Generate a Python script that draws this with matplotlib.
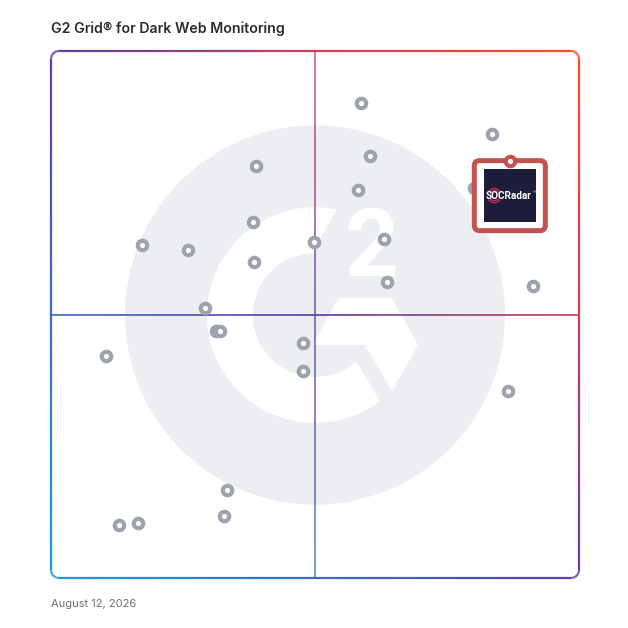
#!/usr/bin/env python3
"""Recreate the G2 Grid for Dark Web Monitoring chart."""
import numpy as np
import matplotlib
matplotlib.use("Agg")
import matplotlib.pyplot as plt
from matplotlib.collections import LineCollection
from matplotlib.colors import LinearSegmentedColormap
from matplotlib.patches import Circle, Polygon, FancyBboxPatch, Rectangle, Arc

# Scores: satisfaction (x) and market presence (y), 0-100
satisfaction = [58.7, 83.5, 60.4, 38.8, 58.1, 38.3, 80.1, 17.2, 25.9, 49.8,
                63.1, 38.4, 63.6, 91.3, 29.2, 31.3, 32.0, 47.7, 10.4, 47.7,
                86.6, 33.3, 32.8, 16.5, 12.9]
market_presence = [90.1, 84.3, 80.1, 78.2, 73.6, 67.6, 74.0, 63.2, 62.2, 63.8,
                   64.3, 60.0, 56.2, 55.4, 51.2, 46.9, 46.9, 44.6, 42.1, 39.3,
                   35.5, 16.7, 11.8, 10.4, 10.1]

highlight_name = "SOCRadar"
highlight_x = 86.9
highlight_y = 79.1

title = "G2 Grid\u00ae for Dark Web Monitoring"
date_label = "August 12, 2026"

W = H = 628
fig = plt.figure(figsize=(W / 100, H / 100), dpi=100)
fig.patch.set_facecolor("white")

# grid box in reference pixels: x 51..579, y 51..578
gx0, gx1, gy0, gy1 = 51, 579, 51, 578
ax = fig.add_axes([gx0 / W, 1 - gy1 / H, (gx1 - gx0) / W, (gy1 - gy0) / H])
ax.set_xlim(0, 100)
ax.set_ylim(0, 100)
ax.axis("off")

sx = 100 / (gx1 - gx0)  # data units per pixel
sy = 100 / (gy1 - gy0)


def px(x, y):
    """Reference pixel -> data coordinates."""
    return ((x - gx0) * sx, (gy1 - y) * sy)


# --- G2 watermark -------------------------------------------------------
wm = "#eceef1"
cx, cy = px(315, 315)
ax.add_patch(Circle((cx, cy), 190 * sx, color=wm, lw=0, zorder=0))

r_out, r_in = 108 * sx, 62 * sx
a_out = np.radians(np.linspace(78.6, 306.9, 120))
a_in = np.radians(np.linspace(311.8, 92.0, 120))
c_pts = np.vstack([
    np.column_stack([cx + r_out * np.cos(a_out), cy + r_out * np.sin(a_out)]),
    np.column_stack([cx + r_in * np.cos(a_in), cy + r_in * np.sin(a_in)]),
])
ax.add_patch(Polygon(c_pts, closed=True, color="white", lw=0, zorder=0.5))

chevron = [px(338, 298), px(392, 298), px(418, 345), px(392, 391),
           px(365, 345), px(313, 345)]
ax.add_patch(Polygon(chevron, closed=True, color="white", lw=0, zorder=0.5))
tx, ty = px(372, 250)
ax.text(tx, ty, "2", fontsize=68, fontweight="bold", family="Roboto",
        color="white", ha="center", va="center", zorder=0.6)

# --- gradient frame and cross lines --------------------------------------
grad = LinearSegmentedColormap.from_list(
    "g2", [(0, "#1a9cd8"), (0.25, "#3b6cc0"), (0.5, "#5d3dab"),
           (0.75, "#c8405a"), (1.0, "#ff4c26")])


def gradient_line(xs, ys, lw, alpha=1.0, z=2):
    pts = np.column_stack([xs, ys])
    segs = np.stack([pts[:-1], pts[1:]], axis=1)
    mid = (pts[:-1] + pts[1:]) / 2
    t = (mid[:, 0] + mid[:, 1]) / 200
    lc = LineCollection(segs, colors=grad(t), linewidths=lw, alpha=alpha,
                        zorder=z, capstyle="butt", clip_on=False)
    ax.add_collection(lc)


# rounded rectangle path
rad = 8 * sx
corners = [(100 - rad, 100 - rad, 0, 90), (rad, 100 - rad, 90, 180),
           (rad, rad, 180, 270), (100 - rad, rad, 270, 360)]
fx, fy = [], []
for ccx, ccy, a0, a1 in corners:
    ang = np.radians(np.linspace(a0, a1, 20))
    fx.extend(ccx + rad * np.cos(ang))
    fy.extend(ccy + rad * np.sin(ang))
fx.append(fx[0])
fy.append(fy[0])
# densify straight edges so the colour blends smoothly
dx, dy = [], []
for i in range(len(fx) - 1):
    n = max(2, int(np.hypot(fx[i + 1] - fx[i], fy[i + 1] - fy[i]) * 2))
    dx.extend(np.linspace(fx[i], fx[i + 1], n)[:-1])
    dy.extend(np.linspace(fy[i], fy[i + 1], n)[:-1])
dx.append(fx[0])
dy.append(fy[0])
gradient_line(np.array(dx), np.array(dy), lw=1.6)

line = np.linspace(0, 100, 200)
gradient_line(line, np.full_like(line, 50), lw=1.3, alpha=0.95, z=1)
gradient_line(np.full_like(line, 50), line, lw=1.3, alpha=0.75, z=1)

# --- vendors ------------------------------------------------------------
ax.scatter(satisfaction, market_presence, s=46, facecolor="white",
           edgecolor="#9ea2ad", linewidths=3.0, zorder=3)

# highlighted vendor with its logo card
bw, bh = 71 * sx, 70 * sy
card_x = highlight_x - bw / 2
card_top = highlight_y + 0.5 * sy
ax.add_patch(FancyBboxPatch((card_x, card_top - bh), bw, bh,
                            boxstyle="round,pad=0,rounding_size=1.0",
                            facecolor="white", edgecolor="#c4524f",
                            linewidth=3.6, zorder=4))
lw_, lh_ = 52 * sx, 53 * sy
ax.add_patch(Rectangle((highlight_x - lw_ / 2, card_top - 8.5 * sy - lh_),
                       lw_, lh_, facecolor="#1d1c3b", lw=0, zorder=5))
logo_cy = card_top - 35 * sy
ax.text(highlight_x - 0.3, logo_cy, highlight_name, fontsize=7.2,
        fontweight="bold", family="Roboto", color="white", ha="center",
        va="center", zorder=7)
ox = highlight_x - 2.95
for rr, a0, a1 in [(10, 25, 155), (10, 205, 335), (14, 35, 145), (14, 215, 325)]:
    ax.add_patch(Arc((ox, logo_cy), rr * sx, rr * sy, theta1=a0, theta2=a1,
                     color="#e0334a", lw=0.8, zorder=6))
ax.text(highlight_x + 4.6, logo_cy + 0.7, "\u00ae", fontsize=3,
        color="white", ha="center", va="center", zorder=7)
ax.scatter([highlight_x], [highlight_y], s=46, facecolor="white",
           edgecolor="#c4524f", linewidths=3.0, zorder=8)

# --- texts --------------------------------------------------------------
fig.text(gx0 / W, 1 - 29 / H, title, fontsize=10.2, fontweight="semibold",
         family="Inter", color="#2b2b2b", ha="left", va="center")
fig.text(gx0 / W, 1 - 604 / H, date_label, fontsize=8, family="Inter",
         color="#707070", ha="left", va="center")

fig.savefig("out.png", dpi=100, facecolor="white")
